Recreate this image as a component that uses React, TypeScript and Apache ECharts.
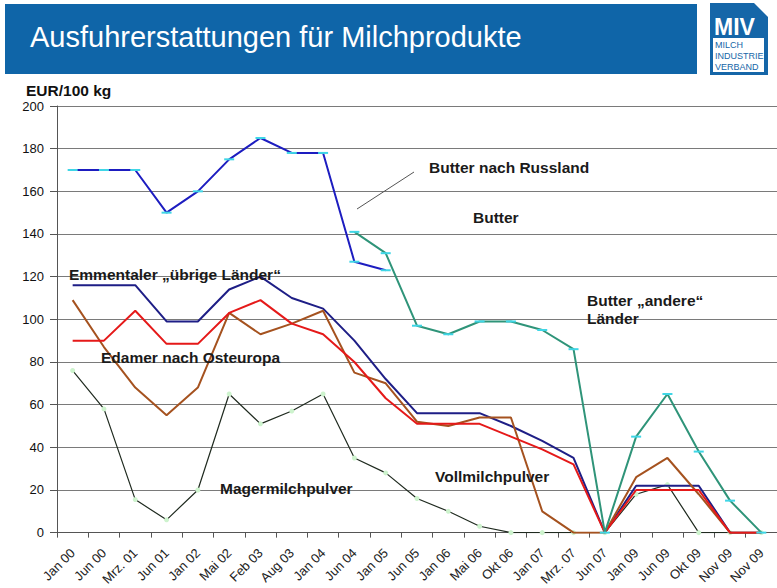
import React, { useEffect, useRef } from "react";
import * as echarts from "echarts";

const categories = ["Jan 00","Jun 00","Mrz. 01","Jun 01","Jan 02","Mai 02","Feb 03","Aug 03","Jan 04","Jun 04","Jan 05","Jun 05","Jan 06","Mai 06","Okt 06","Jan 07","Mrz. 07","Jun 07","Jan 09","Jun 09","Okt 09","Nov 09","Nov 09"];

const butterRussland = [170,170,170,150,160,175,185,178,178,127,123,null,null,null,null,null,null,null,null,null,null,null,null];
const butterAndere = [null,null,null,null,null,null,null,null,null,141,131,97,93,99,99,95,86,0,45,65,38,15,0];
const emmentaler = [116,116,116,99,99,114,120,110,105,90,72,56,56,56,50,43,35,0,22,22,22,0,0];
const edamer = [90,90,104,88.5,88.5,103,109,98,93,80,63,51,51,51,45,39,32,0,20,20,20,0,0];
const vollmilch = [109,87,68,55,68,103,93,98,104,75,70,52,50,54,54,10,0,0,26,35,18,0,0];
const magermilch = [76,58,15.5,6,20,65,51,57,65,35,28,16,10,3,0,0,0,0,18,22.5,0,0,0];

const yTicks = { min: 0, max: 200, interval: 20 };

const FONT = "Liberation Sans, Arial, sans-serif";

function txt(text: string, x: number, y: number, size = 15.5, weight: any = "bold", fill = "#1a1a1a") {
  return {
    type: "text",
    x,
    y,
    z: 100,
    style: {
      text,
      fill,
      fontSize: size,
      fontWeight: weight,
      fontFamily: FONT,
      align: "left",
      verticalAlign: "middle",
      textAlign: "left",
      textVerticalAlign: "middle",
    },
  };
}

export default function App() {
  const ref = useRef<HTMLDivElement>(null);
  useEffect(() => {
    document.body.style.margin = "0";
    const chart = echarts.init(ref.current!, null, { renderer: "svg" });
    const dashMarker = { symbol: "rect", symbolSize: [10, 2], itemStyle: { color: "#3fd6e6" } };
    const option: any = {
      animation: false,
      backgroundColor: "#ffffff",
      textStyle: { fontFamily: FONT },
      grid: { left: 57, right: -8, top: 106, bottom: 55 },
      xAxis: {
        type: "category",
        data: categories,
        boundaryGap: true,
        axisLine: { lineStyle: { color: "#555555", width: 1 } },
        axisTick: { show: true, length: 5, lineStyle: { color: "#555555" } },
        axisLabel: { rotate: 45, interval: 0, fontSize: 13, color: "#222222", margin: 18, fontFamily: FONT },
      },
      yAxis: {
        type: "value",
        min: yTicks.min,
        max: yTicks.max,
        interval: yTicks.interval,
        axisLine: { show: true, lineStyle: { color: "#555555", width: 1 } },
        axisTick: { show: true, length: 7, lineStyle: { color: "#555555" } },
        axisLabel: { fontSize: 13, color: "#111111", margin: 13, fontFamily: FONT },
        splitLine: { lineStyle: { color: "#7a7a7a", width: 1 } },
      },
      series: [
        {
          name: "Magermilchpulver",
          type: "line",
          data: magermilch,
          lineStyle: { color: "#1f2a1f", width: 1.2 },
          symbol: "circle",
          symbolSize: 5,
          itemStyle: { color: "#cdf3cd" },
          z: 2,
        },
        {
          name: "Emmentaler",
          type: "line",
          data: emmentaler,
          lineStyle: { color: "#1e1e86", width: 2 },
          showSymbol: false,
          z: 3,
        },
        {
          name: "Vollmilchpulver",
          type: "line",
          data: vollmilch,
          lineStyle: { color: "#a5521f", width: 2 },
          showSymbol: false,
          z: 4,
        },
        {
          name: "Edamer",
          type: "line",
          data: edamer,
          lineStyle: { color: "#e51919", width: 2 },
          showSymbol: false,
          z: 5,
        },
        {
          name: "Butter andere Länder",
          type: "line",
          data: butterAndere,
          lineStyle: { color: "#2f9479", width: 2 },
          ...dashMarker,
          z: 6,
        },
        {
          name: "Butter nach Russland",
          type: "line",
          data: butterRussland,
          lineStyle: { color: "#1d1dc0", width: 2 },
          ...dashMarker,
          z: 7,
        },
      ],
      graphic: [
        { type: "rect", shape: { x: 5, y: 4, width: 692, height: 70 }, style: { fill: "#0f65a8" } },
        {
          type: "text",
          x: 30,
          y: 37,
          style: {
            text: "Ausfuhrerstattungen für Milchprodukte",
            fill: "#ffffff",
            fontSize: 29,
            fontFamily: FONT,
            align: "left",
            verticalAlign: "middle",
            textAlign: "left",
            textVerticalAlign: "middle",
          },
        },
        {
          type: "polygon",
          shape: { points: [[710, 3], [754, 3], [768, 17], [768, 75], [710, 75]] },
          style: { fill: "#1566a8" },
        },
        { type: "rect", shape: { x: 713, y: 38, width: 51, height: 34 }, style: { fill: "#ffffff" } },
        {
          type: "text",
          x: 714,
          y: 27,
          style: {
            text: "MIV",
            fill: "#ffffff",
            fontSize: 23,
            fontWeight: "bold",
            fontFamily: FONT,
            align: "left",
            verticalAlign: "middle",
            textAlign: "left",
            textVerticalAlign: "middle",
          },
        },
        txt("MILCH", 715, 45, 9, "normal", "#1566a8"),
        txt("INDUSTRIE", 715, 56, 9, "normal", "#1566a8"),
        txt("VERBAND", 715, 67, 9, "normal", "#1566a8"),
        txt("EUR/100 kg", 26, 90, 15.5, "bold", "#111111"),
        txt("Butter nach Russland", 429, 167),
        txt("Butter", 473, 217),
        { type: "line", shape: { x1: 357, y1: 209, x2: 414, y2: 172 }, style: { stroke: "#555555", lineWidth: 1 }, z: 100 },
        txt("Butter \u201Eandere\u201C", 587, 300),
        txt("Länder", 587, 318),
        txt("Emmentaler \u201E\u00FCbrige Länder\u201C", 69, 274),
        txt("Edamer nach Osteuropa", 101, 357),
        txt("Magermilchpulver", 220, 488),
        txt("Vollmilchpulver", 435, 476),
      ],
    };
    chart.setOption(option);
    return () => chart.dispose();
  }, []);
  return (
    <div
      ref={ref}
      style={{ position: "fixed", left: 0, top: 0, width: 777, height: 588, background: "#ffffff" }}
    />
  );
}
